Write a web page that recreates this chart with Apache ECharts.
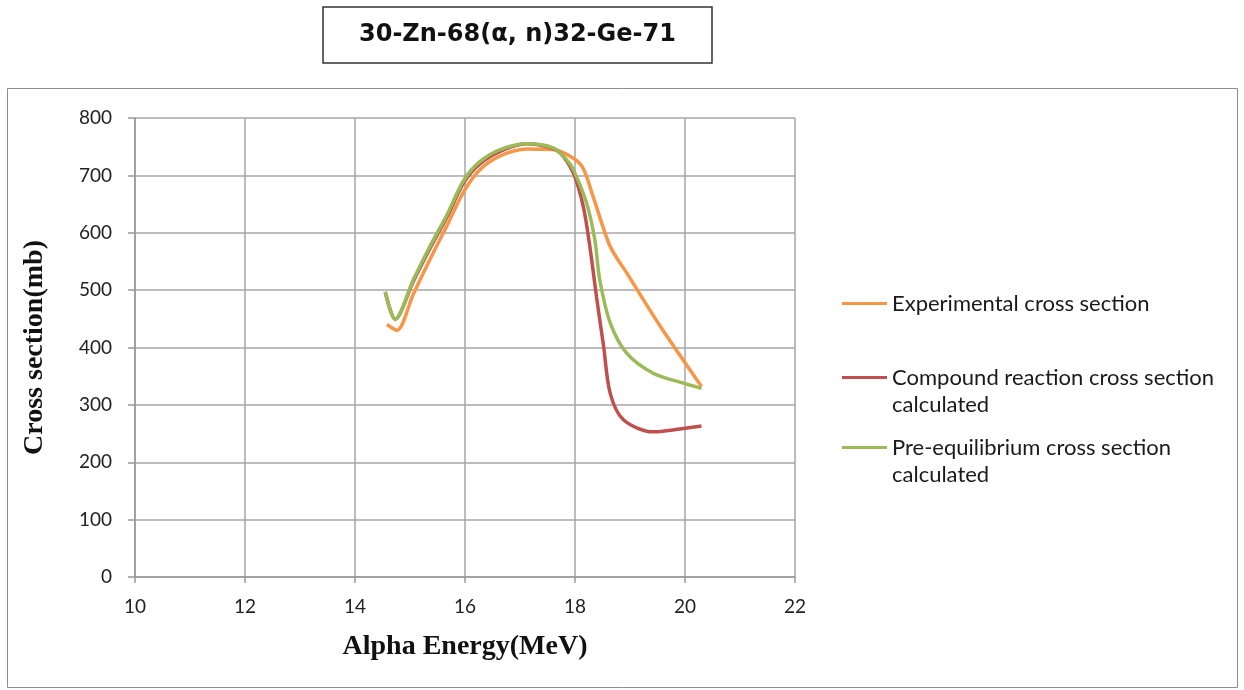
<!DOCTYPE html>
<html>
<head>
<meta charset="utf-8">
<script src="https://cdn.jsdelivr.net/npm/echarts@6/dist/echarts.min.js"></script>
<style>
  html, body { margin: 0; padding: 0; background: #fff; }
  #chart { width: 1244px; height: 690px; }
</style>
</head>
<body>
<div id="chart"></div>
<script>
// values
const expEnergy = [14.58, 14.76, 15.06, 15.36, 15.67, 15.98, 16.27, 16.64, 17.12, 17.6, 17.97, 18.15, 18.33, 18.64, 18.94, 19.55, 20.3]
const expCross = [440, 430, 493, 553, 612, 672, 710, 734, 746, 745, 730, 712, 663, 576, 530, 437, 332]

const compEnergy = [14.55, 14.73, 15.06, 15.36, 15.67, 15.98, 16.27, 16.64, 17.12, 17.5, 17.73, 17.97, 18.15, 18.27, 18.39, 18.52, 18.64, 18.88, 19.42, 19.91, 20.3]
const compCross = [497, 449, 515, 572, 627, 688, 720, 742, 755, 750, 739, 704, 646, 576, 489, 402, 320, 274, 253, 258, 263]

const preEnergy = [14.55, 14.73, 15.06, 15.36, 15.67, 15.98, 16.27, 16.64, 17.12, 17.6, 17.85, 17.97, 18.21, 18.36, 18.45, 18.64, 18.94, 19.42, 19.97, 20.3]
const preCross = [497, 449, 518, 576, 631, 692, 724, 745, 755, 748, 727, 710, 652, 588, 518, 443, 390, 355, 338, 329]

const seriesNames = [
  'Experimental cross section',
  'Compound reaction cross section\ncalculated',
  'Pre-equilibrium cross section\ncalculated'
]
const colors = ['#F79646', '#C0504D', '#9BBB59']

const zip = (xs, ys) => xs.map((x, i) => [x, ys[i]])

const chart = echarts.init(document.getElementById('chart'))

const labelFont = 'Lato, "Open Sans", sans-serif'
const serifFont = '"Liberation Serif", "Times New Roman", serif'
const legendBase = {
  orient: 'vertical',
  left: 842,
  padding: 0,
  icon: 'rect',
  itemWidth: 45,
  itemHeight: 3,
  textStyle: { fontFamily: labelFont, fontSize: 22, color: '#1a1a1a', lineHeight: 27 }
}
// two-line entries: a blank first line keeps the key level with the first text line
const twoLine = name => '\n' + name

const option = {
  animation: false,
  title: {
    text: '30-Zn-68(\u03b1, n)32-Ge-71',
    left: 323,
    top: 7,
    padding: [16, 36, 16, 36],
    borderColor: '#333',
    borderWidth: 1.5,
    textStyle: { fontFamily: '"DejaVu Sans", sans-serif', fontSize: 24, fontWeight: 'bold', color: '#111' }
  },
  graphic: [{
    type: 'rect',
    shape: { x: 7.5, y: 88.5, width: 1230, height: 599 },
    style: { fill: 'none', stroke: '#8c8c8c', lineWidth: 1 },
    silent: true
  }],
  legend: [
    Object.assign({}, legendBase, { top: 290, data: [seriesNames[0]] }),
    Object.assign({}, legendBase, { top: 337, data: [seriesNames[1]], formatter: twoLine }),
    Object.assign({}, legendBase, { top: 407, data: [seriesNames[2]], formatter: twoLine })
  ],
  grid: { left: 135, right: 449, top: 118, bottom: 113 },
  xAxis: {
    type: 'value',
    min: 10,
    max: 22,
    interval: 2,
    name: 'Alpha Energy(MeV)',
    nameLocation: 'middle',
    nameGap: 56,
    nameTextStyle: { fontFamily: serifFont, fontSize: 28, fontWeight: 'bold', color: '#111' },
    axisLine: { lineStyle: { color: '#999', width: 1.5 } },
    axisTick: { show: true, length: 6, lineStyle: { color: '#999', width: 1.5 } },
    axisLabel: { fontFamily: labelFont, fontSize: 19, color: '#222', margin: 20 },
    splitLine: { show: true, lineStyle: { color: '#a6a6a6', width: 1.5 } }
  },
  yAxis: {
    type: 'value',
    min: 0,
    max: 800,
    interval: 100,
    name: 'Cross section(mb)',
    nameLocation: 'middle',
    nameGap: 86,
    nameTextStyle: { fontFamily: serifFont, fontSize: 28, fontWeight: 'bold', color: '#111' },
    axisLine: { show: true, lineStyle: { color: '#999', width: 1.5 } },
    axisTick: { show: true, length: 7, lineStyle: { color: '#999', width: 1.5 } },
    axisLabel: { fontFamily: labelFont, fontSize: 19, color: '#222', margin: 23 },
    splitLine: { show: true, lineStyle: { color: '#a6a6a6', width: 1.5 } }
  },
  series: [
    { name: seriesNames[0], data: zip(expEnergy, expCross) },
    { name: seriesNames[1], data: zip(compEnergy, compCross) },
    { name: seriesNames[2], data: zip(preEnergy, preCross) }
  ].map((s, i) => Object.assign({
    type: 'line',
    smooth: 0.3,
    showSymbol: false,
    symbol: 'none',
    color: colors[i],
    lineStyle: { color: colors[i], width: 3.5 }
  }, s))
}

chart.setOption(option)
</script>
</body>
</html>
